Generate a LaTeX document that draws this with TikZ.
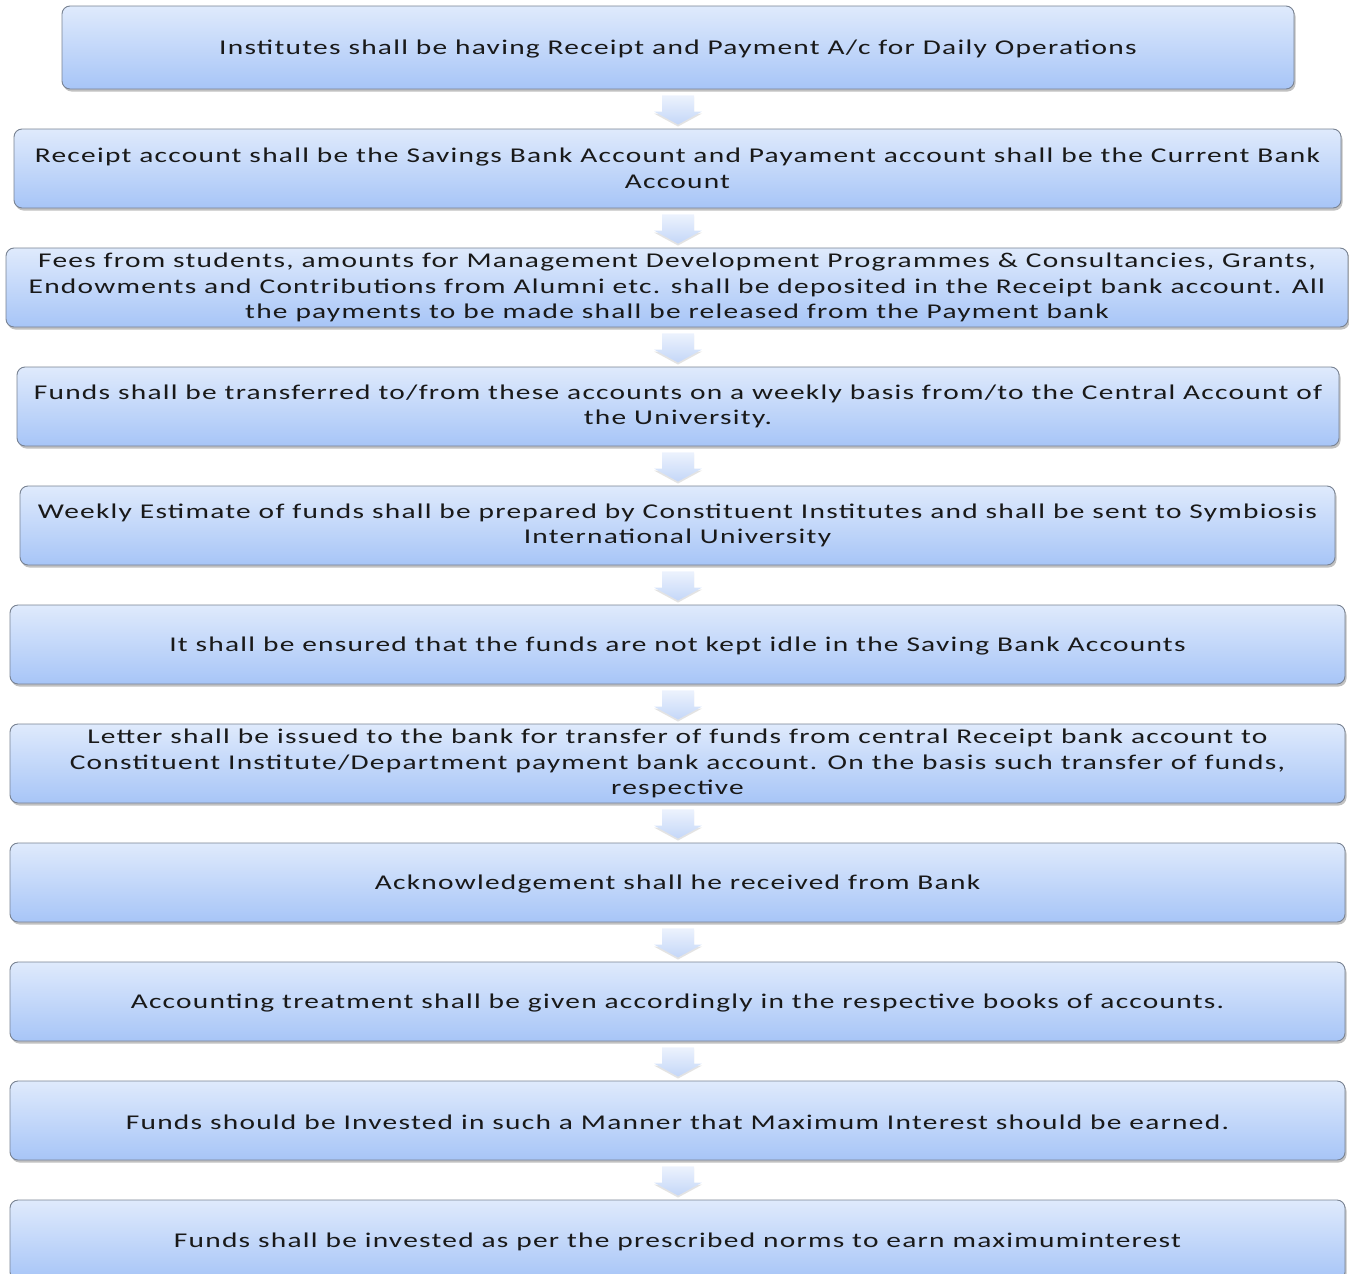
\documentclass[tikz,border=0pt]{standalone}
\usepackage{fontspec}
\setmainfont{Carlito}[FakeStretch=1.4,LetterSpace=6]
\usetikzlibrary{shadows,calc}
\definecolor{boxtop}{RGB}{223,234,252}
\definecolor{boxbot}{RGB}{167,197,247}
\definecolor{boxline}{RGB}{120,130,146}
\definecolor{arrtop}{RGB}{236,242,253}
\definecolor{arrbot}{RGB}{196,215,248}
\definecolor{txt}{RGB}{25,25,25}
\tikzset{
  flowbox/.style={rectangle, rounded corners=8pt, draw=boxline, line width=0.9pt,
    top color=boxtop, bottom color=boxbot, inner sep=0pt, align=center,
    text=txt, font=\fontsize{21}{25.5}\selectfont,
    execute at begin node={\rule{0pt}{18pt}},
    drop shadow={shadow xshift=1.5pt, shadow yshift=-2.5pt, opacity=0.35, fill=black!70}},
  flowarr/.style={top color=arrtop, bottom color=arrbot, draw=none,
    drop shadow={shadow xshift=0pt, shadow yshift=-2pt, opacity=0.18, fill=black!60}}
}
\newcommand\flowarrow[2]{%
  \path[flowarr] let \p1=(#1.south), \p2=(#2.north) in
    (678pt-16pt,\y1-6pt) -- (678pt+16pt,\y1-6pt) -- (678pt+16pt,\y2+17pt)
    -- (678pt+24pt,\y2+17pt) -- (678pt,\y2+4pt) -- (678pt-24pt,\y2+17pt)
    -- (678pt-16pt,\y2+17pt) -- cycle;}
\begin{document}
\begin{tikzpicture}[x=1pt,y=1pt]
\useasboundingbox (0,0) rectangle (1349,-1274);
\node[flowbox, minimum width=1232pt, minimum height=83pt] (b1) at (678,-47.5)
  {Institutes shall be having Receipt and Payment A/c for Daily Operations};
\node[flowbox, minimum width=1327pt, minimum height=79pt] (b2) at (677.5,-168.5)
  {Receipt account shall be the Savings Bank Account and Payament account shall be the Current Bank\\Account};
\node[flowbox, minimum width=1342pt, minimum height=79pt] (b3) at (677,-287.5)
  {Fees from students, amounts for Management Development Programmes \& Consultancies, Grants,\\Endowments and Contributions from Alumni etc. shall be deposited in the Receipt bank account. All\\the payments to be made shall be released from the Payment bank};
\node[flowbox, minimum width=1322pt, minimum height=79pt] (b4) at (678,-406.5)
  {Funds shall be transferred to/from these accounts on a weekly basis from/to the Central Account of\\the University.};
\node[flowbox, minimum width=1315pt, minimum height=79pt] (b5) at (677.5,-525.5)
  {Weekly Estimate of funds shall be prepared by Constituent Institutes and shall be sent to Symbiosis\\International University};
\node[flowbox, minimum width=1335pt, minimum height=79pt] (b6) at (677.5,-644.5)
  {It shall be ensured that the funds are not kept idle in the Saving Bank Accounts};
\node[flowbox, minimum width=1335pt, minimum height=79pt] (b7) at (677.5,-763.5)
  {Letter shall be issued to the bank for transfer of funds from central Receipt bank account to\\Constituent Institute/Department payment bank account. On the basis such transfer of funds,\\respective};
\node[flowbox, minimum width=1335pt, minimum height=79pt] (b8) at (677.5,-882.5)
  {Acknowledgement shall he received from Bank};
\node[flowbox, minimum width=1335pt, minimum height=79pt] (b9) at (677.5,-1001.5)
  {Accounting treatment shall be given accordingly in the respective books of accounts.};
\node[flowbox, minimum width=1335pt, minimum height=79pt] (b10) at (677.5,-1120.5)
  {Funds should be Invested in such a Manner that Maximum Interest should be earned.};
\node[flowbox, minimum width=1335pt, minimum height=80pt] (b11) at (677.5,-1240)
  {Funds shall be invested as per the prescribed norms to earn maximuminterest};
\flowarrow{b1}{b2}
\flowarrow{b2}{b3}
\flowarrow{b3}{b4}
\flowarrow{b4}{b5}
\flowarrow{b5}{b6}
\flowarrow{b6}{b7}
\flowarrow{b7}{b8}
\flowarrow{b8}{b9}
\flowarrow{b9}{b10}
\flowarrow{b10}{b11}
\end{tikzpicture}
\end{document}
